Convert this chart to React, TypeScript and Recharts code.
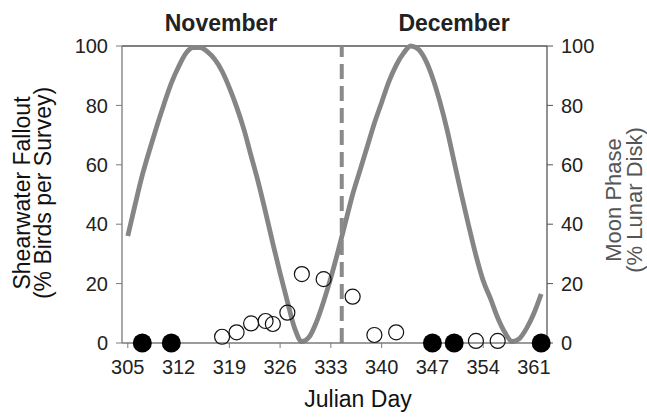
import React from "react";
import {
  ComposedChart,
  Line,
  Scatter,
  XAxis,
  YAxis,
  ReferenceLine,
  Label,
} from "recharts";

// ---- data ----
const moonStartDay = 305;
const moonPhase = [
  36, 46.5, 56.5, 65, 73, 80.5, 87.5, 93, 97.5, 99.5, 99.5, 98, 95.5, 91.5, 86,
  79.5, 72, 63, 54, 44, 33.5, 23.5, 14, 5, 0.5, 2, 7, 14, 22, 31, 40.5, 50, 58,
  66, 74, 81, 88, 93.5, 97.5, 100, 99, 95.5, 89.5, 81.5, 72, 61, 50, 39.5, 29.5,
  21, 15, 8.5, 3.5, 0.5, 1.5, 5, 10, 16.5,
];
const falloutDays = [318, 320, 322, 324, 325, 327, 329, 332, 336, 339, 342, 353, 356];
const falloutValues = [2.1, 3.6, 6.6, 7.4, 6.4, 10.2, 23.2, 21.5, 15.6, 2.7, 3.6, 0.7, 0.7];
const zeroDays = [307, 311, 347, 350, 362];
const zeroValues = [0, 0, 0, 0, 0];
const xTicks = [305, 312, 319, 326, 333, 340, 347, 354, 361];
const yTicks = [0, 20, 40, 60, 80, 100];
const monthLabels = ["November", "December"];
const monthBoundaryDay = 334.5;

const moonData = moonPhase.map((v, i) => ({ day: moonStartDay + i, moon: v }));
const fallData = falloutDays.map((d, i) => ({ day: d, fall: falloutValues[i] }));
const zeroData = zeroDays.map((d, i) => ({ day: d, fall: zeroValues[i] }));

const FONT = "'Liberation Sans', Arial, sans-serif";
const AXIS = "#7a7a7a";

const OpenDot = (p: any) => (
  <circle cx={p.cx} cy={p.cy} r={7.5} fill="none" stroke="#111" strokeWidth={1.2} />
);
const FilledDot = (p: any) => <circle cx={p.cx} cy={p.cy} r={9.5} fill="#000" />;

const LeftTitle = () => (
  <g fontFamily={FONT} fontSize={23} fill="#111">
    <text x={30} y={193} textAnchor="middle" transform="rotate(-90 30 193)">
      Shearwater Fallout
    </text>
    <text x={51} y={193} textAnchor="middle" transform="rotate(-90 51 193)">
      (% Birds per Survey)
    </text>
  </g>
);

const RightTitle = () => (
  <g fontFamily={FONT} fontSize={22} fill="#555">
    <text x={621} y={200} textAnchor="middle" transform="rotate(-90 621 200)">
      Moon Phase
    </text>
    <text x={642} y={200} textAnchor="middle" transform="rotate(-90 642 200)">
      (% Lunar Disk)
    </text>
  </g>
);

const BottomTitle = () => (
  <g fontFamily={FONT}>
    <text x={358} y={407} textAnchor="middle" fontSize={23} fill="#111">
      Julian Day
    </text>
    <text x={221} y={31} textAnchor="middle" fontSize={23} fontWeight="bold" fill="#222">
      {monthLabels[0]}
    </text>
    <text x={454} y={31} textAnchor="middle" fontSize={23} fontWeight="bold" fill="#222">
      {monthLabels[1]}
    </text>
  </g>
);

const tickStyle = { fontFamily: FONT, fontSize: 20, fill: "#222" };

export default function App() {
  return (
    <div style={{ position: "absolute", left: 0, top: 0, background: "#fff" }}>
      <ComposedChart
        width={647}
        height={418}
        margin={{ top: 46, right: 0, bottom: 0, left: 0 }}
      >
        <XAxis
          type="number"
          dataKey="day"
          domain={[304.2, 362.8]}
          ticks={xTicks}
          interval={0}
          height={75}
          axisLine={{ stroke: AXIS, strokeWidth: 1.3 }}
          tickLine={{ stroke: AXIS }}
          tickSize={5}
          tickMargin={12}
          tick={tickStyle}
        >
          <Label content={<BottomTitle />} />
        </XAxis>
        <YAxis
          yAxisId="left"
          domain={[0, 100]}
          ticks={yTicks}
          interval={0}
          width={122}
          axisLine={{ stroke: AXIS, strokeWidth: 1.3 }}
          tickLine={{ stroke: AXIS }}
          tickSize={6}
          tickMargin={8}
          tick={tickStyle}
        >
          <Label content={<LeftTitle />} />
        </YAxis>
        <YAxis
          yAxisId="right"
          orientation="right"
          domain={[0, 100]}
          ticks={yTicks}
          interval={0}
          width={100}
          axisLine={{ stroke: "#555", strokeWidth: 1.3 }}
          tickLine={{ stroke: "#555" }}
          tickSize={6}
          tickMargin={8}
          tick={tickStyle}
        >
          <Label content={<RightTitle />} />
        </YAxis>
        <ReferenceLine yAxisId="left" y={100} stroke="#555" strokeWidth={1.3} />
        <Scatter
          yAxisId="left"
          data={fallData}
          dataKey="fall"
          shape={<OpenDot />}
          isAnimationActive={false}
        />
        <Scatter
          yAxisId="left"
          data={zeroData}
          dataKey="fall"
          shape={<FilledDot />}
          isAnimationActive={false}
        />
        <Line
          yAxisId="right"
          data={moonData}
          dataKey="moon"
          type="monotone"
          stroke="#858585"
          strokeWidth={4.8}
          dot={false}
          isAnimationActive={false}
        />
        <ReferenceLine
          yAxisId="left"
          x={monthBoundaryDay}
          stroke="#8a8a8a"
          strokeWidth={4}
          strokeDasharray="15 7"
        />
      </ComposedChart>
    </div>
  );
}
